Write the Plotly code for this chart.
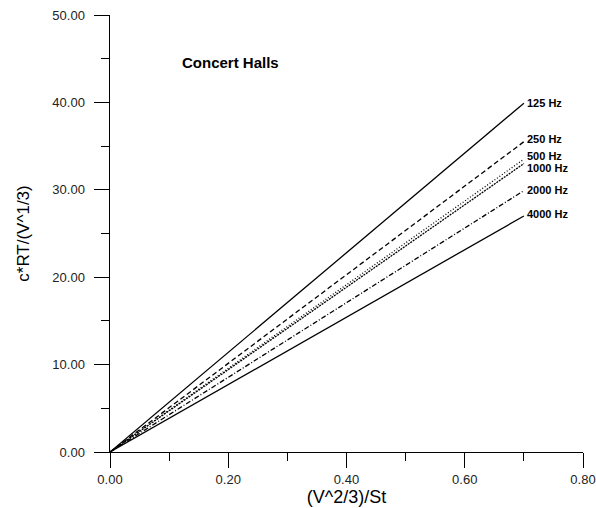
import plotly.graph_objects as go

x_vals = [0.0, 0.70]
freq_labels = ["125 Hz", "250 Hz", "500 Hz", "1000 Hz", "2000 Hz", "4000 Hz"]
end_values = [39.9, 35.5, 33.5, 33.0, 29.9, 27.0]
dash_styles = ["solid", "5px,3px", "1px,2px", "2px,1px", "5px,2px,1px,2px", "solid"]
label_yshift = [0, 3, 3, -4, 1, 2]

fig = go.Figure()
for name, yend, dash in zip(freq_labels, end_values, dash_styles):
    fig.add_trace(go.Scatter(
        x=x_vals, y=[0.0, yend], mode="lines", name=name,
        line=dict(color="black", width=1.3, dash=dash),
        showlegend=False, cliponaxis=False,
    ))

for name, yend, ys in zip(freq_labels, end_values, label_yshift):
    fig.add_annotation(x=x_vals[-1], y=yend, text="<b>%s</b>" % name,
                       xanchor="left", yanchor="middle", showarrow=False,
                       xshift=1, yshift=ys,
                       font=dict(family="Liberation Sans, Arial", size=11, color="black"))

fig.add_annotation(x=0.118, y=44.6, text="<b>Concert Halls</b>", xanchor="left",
                   yanchor="middle", showarrow=False,
                   font=dict(family="Liberation Sans, Arial", size=15, color="black"))

axis_common = dict(
    showgrid=False, zeroline=False, showline=True, linecolor="black", linewidth=1,
    ticks="outside", ticklen=15, tickcolor="black", tickwidth=1, automargin=False,
    ticklabeloverflow="allow",
    tickfont=dict(family="Liberation Sans, Arial", size=13, color="#222"),
    tickformat=".2f",
)

fig.update_xaxes(range=[0, 0.8], dtick=0.2, tick0=0,
                 minor=dict(dtick=0.1, ticks="outside", ticklen=8, tickcolor="black"),
                 title=dict(text="(V^2/3)/St", standoff=4,
                            font=dict(family="Liberation Sans, Arial", size=18, color="black")),
                 **axis_common)
fig.update_yaxes(range=[0, 50], dtick=10, tick0=0, ticksuffix="\u2002",
                 minor=dict(dtick=5, ticks="outside", ticklen=8, tickcolor="black"),
                 title=dict(text="c*RT/(V^1/3)", standoff=18,
                            font=dict(family="Liberation Sans, Arial", size=17, color="black")),
                 **axis_common)

fig.update_layout(width=596, height=508, margin=dict(l=110, r=13, t=15, b=56),
                  plot_bgcolor="white", paper_bgcolor="white")

fig.write_html("out.html", config={"displayModeBar": False},
               post_script="document.body.style.margin='0';document.body.style.overflow='hidden';")
